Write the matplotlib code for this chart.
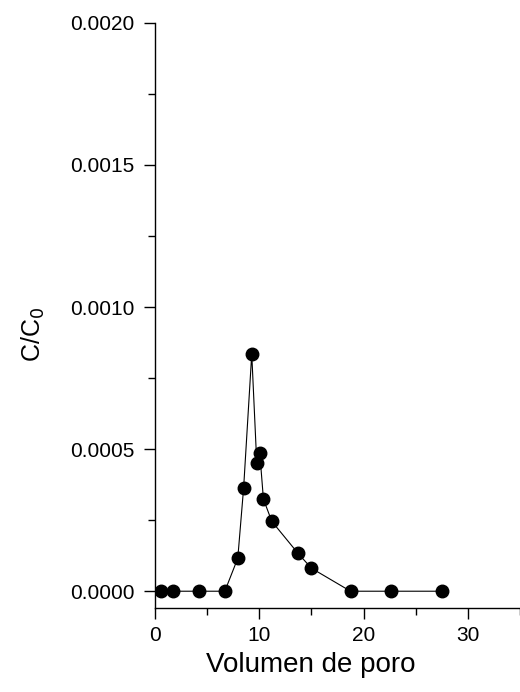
import matplotlib
matplotlib.use('Agg')
import matplotlib.pyplot as plt
from matplotlib.ticker import MultipleLocator

plt.rcParams['font.family'] = ['Liberation Sans', 'DejaVu Sans']

# Data
volumen = [0.57, 1.72, 4.2, 6.7, 7.94, 8.5, 9.28, 9.76, 10.05, 10.4, 11.2,
           13.7, 15.0, 18.75, 22.6, 27.5]
c_c0 = [0.0, 0.0, 0.0, 0.0, 0.000116, 0.000363, 0.000835, 0.000451, 0.000486,
        0.000324, 0.000246, 0.000134, 0.000081, 0.0, 0.0, 0.0]

fig = plt.figure(figsize=(5.2, 6.92), dpi=100)
ax = fig.add_axes([0.298, 0.121, 0.702, 0.846])

ax.plot(volumen, c_c0, color='black', linewidth=0.8, marker='o',
        markersize=9, markerfacecolor='black', markeredgecolor='black')

ax.set_xlim(0, 35)
ax.set_ylim(-0.00006, 0.0020)

ax.xaxis.set_major_locator(MultipleLocator(10))
ax.xaxis.set_minor_locator(MultipleLocator(5))
ax.yaxis.set_major_locator(MultipleLocator(0.0005))
ax.yaxis.set_minor_locator(MultipleLocator(0.00025))
ax.yaxis.set_major_formatter(plt.FormatStrFormatter('%.4f'))

for side in ['top', 'right']:
    ax.spines[side].set_visible(False)
for side in ['left', 'bottom']:
    ax.spines[side].set_linewidth(1.0)

ax.tick_params(which='major', direction='out', length=8, width=1.0,
               labelsize=15)
ax.tick_params(which='minor', direction='out', length=5, width=1.0)
ax.tick_params(axis='x', which='major', pad=5)
ax.tick_params(axis='y', which='major', pad=7)

ax.set_xlabel('Volumen de poro', fontsize=20, va='baseline')
ax.xaxis.set_label_coords(0.427, -0.109)
ax.set_ylabel('C/C$_0$', fontsize=18, va='center')
ax.yaxis.set_label_coords(-0.334, 0.467)

fig.savefig('out.png', dpi=100)
